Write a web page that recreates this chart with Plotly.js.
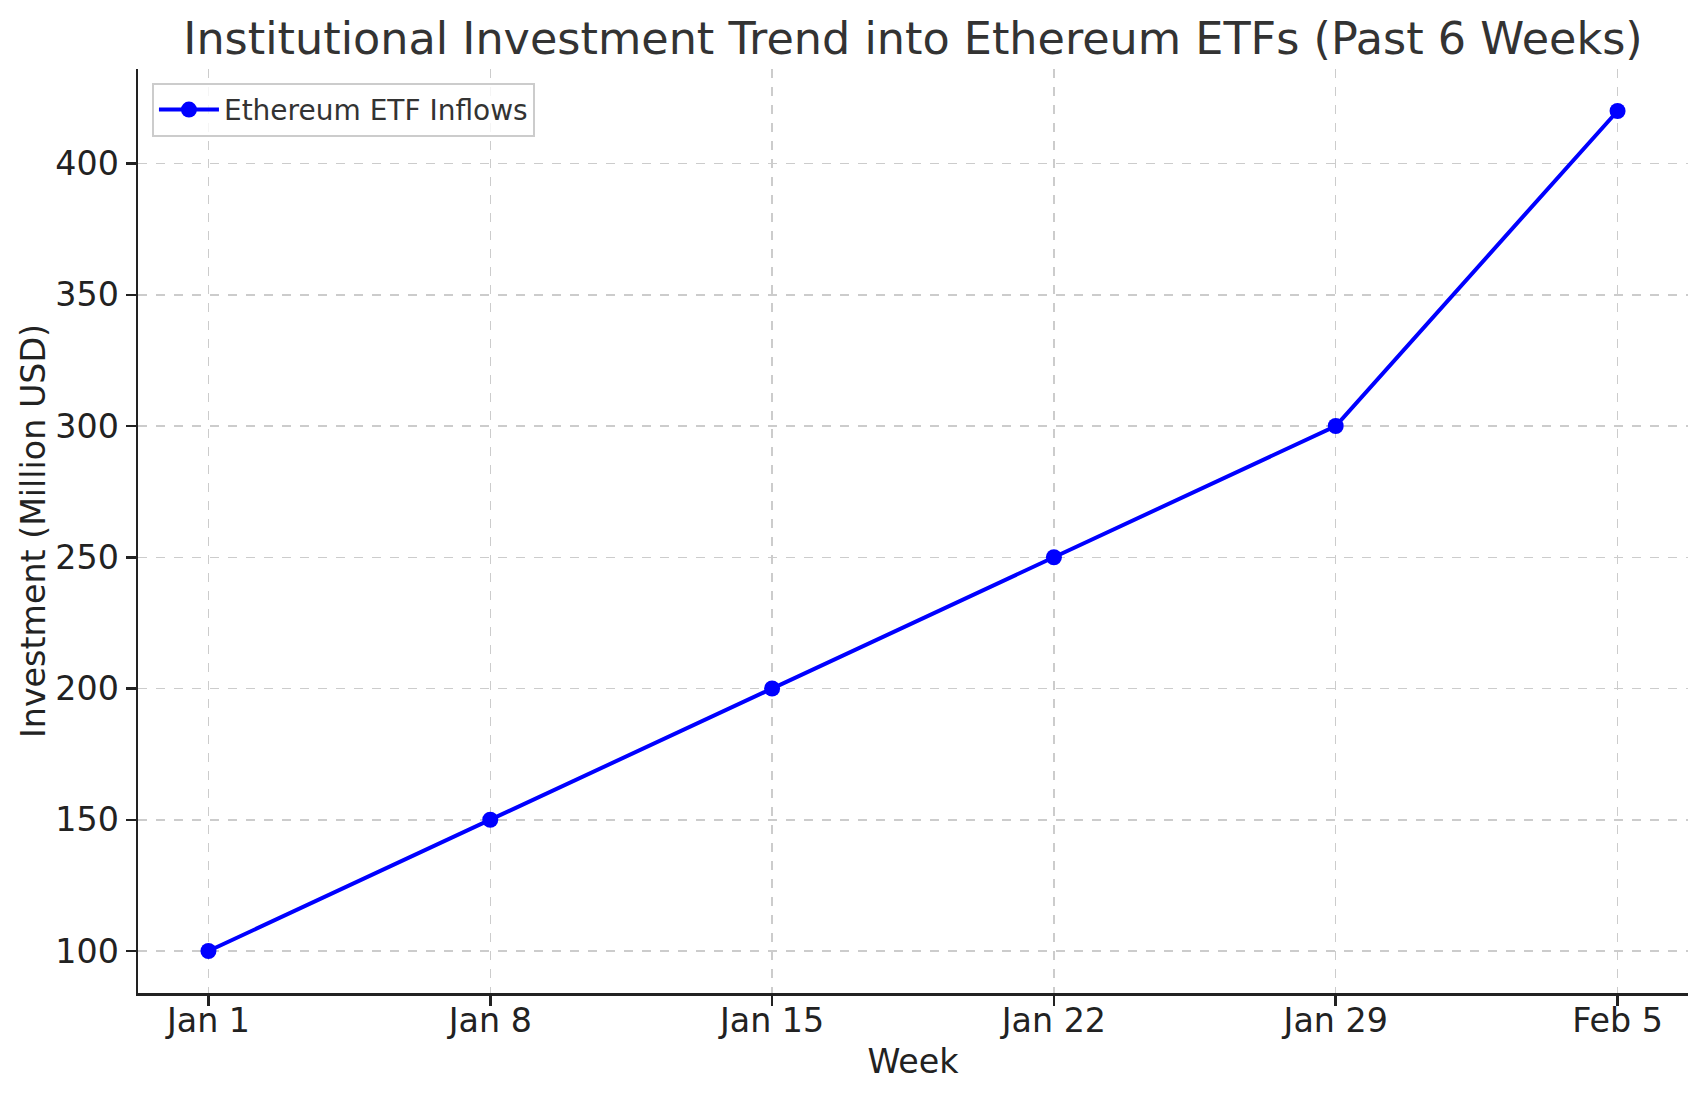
<!DOCTYPE html>
<html>
<head>
<meta charset="utf-8">
<script src="https://cdn.plot.ly/plotly-3.0.1.min.js"></script>
<style>html,body{margin:0;padding:0;background:#fff;}#chart{width:1707px;height:1101px;}</style>
</head>
<body>
<div id="chart"></div>
<script>
const weeks = ["Jan 1", "Jan 8", "Jan 15", "Jan 22", "Jan 29", "Feb 5"];
const inflows = [100, 150, 200, 250, 300, 420];
const seriesName = "Ethereum ETF Inflows";
const yTicks = [100, 150, 200, 250, 300, 350, 400];

const font = "DejaVu Sans, sans-serif";

const trace = {
  x: weeks,
  y: inflows,
  type: "scatter",
  mode: "lines+markers",
  name: seriesName,
  line: {color: "#0000ff", width: 4},
  marker: {color: "#0000ff", size: 16}
};

const layout = {
  width: 1707,
  height: 1101,
  paper_bgcolor: "#ffffff",
  plot_bgcolor: "#ffffff",
  margin: {l: 138, r: 19, t: 69, b: 108},
  font: {family: font, color: "#222222", size: 33},
  title: {
    text: "Institutional Investment Trend into Ethereum ETFs (Past 6 Weeks)",
    font: {family: font, size: 44.5, color: "#333333"},
    x: 0.5, xref: "paper", xanchor: "center",
    y: 1 - 38 / 1101, yref: "container", yanchor: "middle"
  },
  xaxis: {
    type: "category",
    range: [-0.25, 5.25],
    showline: true, linecolor: "#222222", linewidth: 2.5, mirror: false,
    ticks: "outside", ticklen: 10, tickwidth: 2.5, tickcolor: "#222222",
    tickfont: {family: font, size: 33.3, color: "#222222"},
    ticklabelstandoff: -13,
    showgrid: true, gridcolor: "#cccccc", gridwidth: 1.5, griddash: "dash",
    zeroline: false,
    title: {text: "Week", font: {family: font, size: 33.3, color: "#222222"}, standoff: 10}
  },
  yaxis: {
    range: [84, 436],
    tickvals: yTicks,
    showline: true, linecolor: "#222222", linewidth: 2.5, mirror: false,
    ticks: "outside", ticklen: 10, tickwidth: 2.5, tickcolor: "#222222",
    tickfont: {family: font, size: 33.3, color: "#222222"},
    showgrid: true, gridcolor: "#cccccc", gridwidth: 1.5, griddash: "dash",
    zeroline: false,
    title: {text: "Investment (Million USD)", font: {family: font, size: 33.3, color: "#222222"}, standoff: 0}
  },
  showlegend: true,
  legend: {
    x: 0.009, y: 0.985, xanchor: "left", yanchor: "top",
    bgcolor: "rgba(255,255,255,0.8)",
    bordercolor: "#cccccc", borderwidth: 2,
    itemwidth: 60,
    font: {family: font, size: 28, color: "#333333"}
  }
};

Plotly.newPlot("chart", [trace], layout, {displayModeBar: false, staticPlot: true});
</script>
</body>
</html>
